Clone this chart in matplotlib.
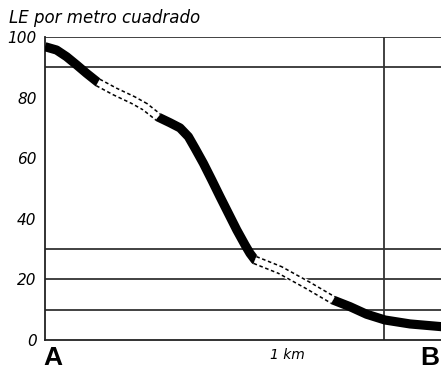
import matplotlib.pyplot as plt
import numpy as np

# distance along transect (km) and density (LE per square metre)
dist = [0.0, 0.058, 0.108, 0.158, 0.208, 0.265, 0.35, 0.44, 0.5, 0.565,
        0.625, 0.675, 0.717, 0.75, 0.792, 0.834, 0.875, 0.917, 0.959, 1.0,
        1.025, 1.05, 1.175, 1.31, 1.44, 1.525, 1.608, 1.70, 1.825, 2.0]
dens = [96.8, 95.7, 93.5, 90.8, 88.0, 85.0, 82.0, 79.2, 77.0, 73.6,
        71.7, 70.0, 67.1, 63.3, 58.3, 52.8, 47.3, 41.8, 36.3, 31.4,
        28.6, 26.4, 23.1, 18.2, 13.2, 11.0, 8.5, 6.6, 5.3, 4.3]
# index ranges drawn hollow (dotted outline)
hollow = [(5, 9), (21, 24)]
grid_levels = [10, 20, 30, 90, 100]
yticks = [0, 20, 40, 60, 80, 100]
vline_km = 1.695

fig = plt.figure(figsize=(4.41, 3.71), dpi=100)
ax = fig.add_axes([45 / 441, 31 / 371, 1.0, 303 / 371])
ax.set_xlim(0, 1.98 * 441 / 396)
ax.set_ylim(0, 100)

for lv in grid_levels:
    ax.axhline(lv, color='#333333', lw=1.3, zorder=1)
ax.axvline(vline_km, color='#333333', lw=1.3, zorder=1)

x = np.array(dist)
y = np.array(dens)
ax.plot(x, y, color='black', lw=6.6, solid_capstyle='butt',
        solid_joinstyle='round', zorder=3)
for i0, i1 in hollow:
    xs, ys = x[i0:i1 + 1], y[i0:i1 + 1]
    ax.plot(xs, ys, color='white', lw=7.4, solid_capstyle='butt', zorder=4)
    ax.plot(xs, ys, color='black', lw=6.4, ls=(0, (0.4, 0.3)),
            dash_capstyle='butt', zorder=5)
    ax.plot(xs, ys, color='white', lw=4.2, solid_capstyle='butt', zorder=6)

ax.spines['right'].set_visible(False)
ax.spines['top'].set_visible(False)
for s in ['left', 'bottom']:
    ax.spines[s].set_linewidth(1.3)
    ax.spines[s].set_color('#222222')

ax.set_xticks([])
ax.set_yticks(yticks)
ax.set_yticklabels([str(v) for v in yticks], fontstyle='italic', fontsize=11,
                   family='DejaVu Sans')
ax.tick_params(axis='y', length=0, pad=6)

fig.text(9 / 441, 1 - 18 / 371, 'LE por metro cuadrado', fontstyle='italic',
         fontsize=12, family='DejaVu Sans', va='center', ha='left')
fig.text(53 / 441, 1 - 358 / 371, 'A', fontweight='bold', fontsize=19,
         family='Liberation Sans', ha='center', va='center')
fig.text(430 / 441, 1 - 358 / 371, 'B', fontweight='bold', fontsize=19,
         family='Liberation Sans', ha='center', va='center')
fig.text(287 / 441, 1 - 355 / 371, '1 km', fontstyle='italic', fontsize=10,
         family='DejaVu Sans', ha='center', va='center')

fig.savefig('out.png', dpi=100)
